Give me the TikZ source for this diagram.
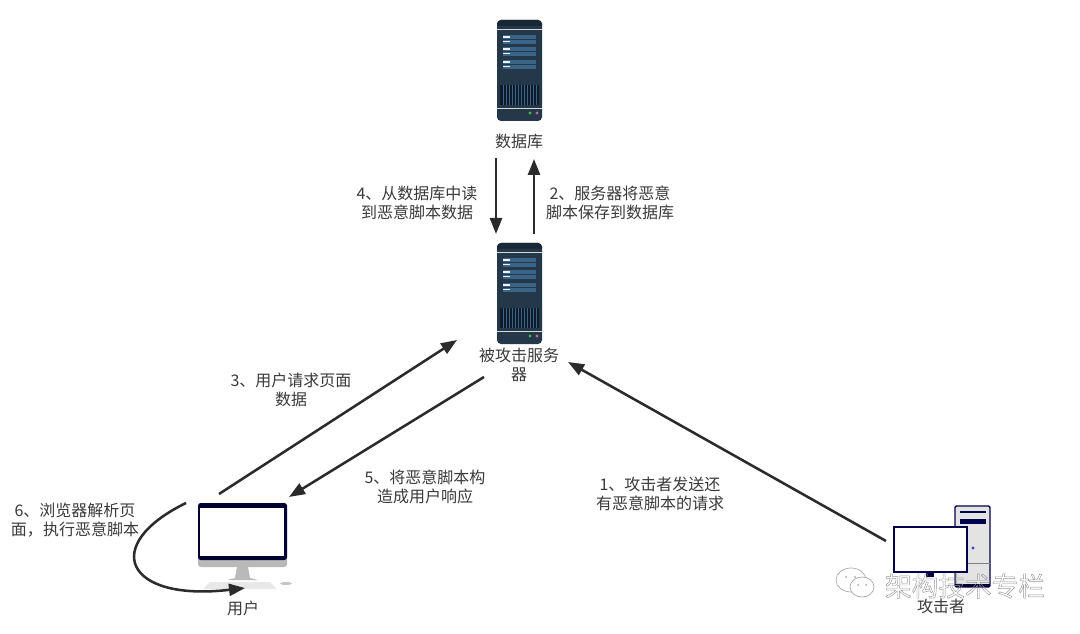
\documentclass[tikz,border=0pt]{standalone}
\usepackage{fontspec}
\setmainfont{Noto Sans CJK SC}
\usetikzlibrary{arrows.meta}
\definecolor{srvdark}{HTML}{25384A}
\definecolor{srvpanel}{HTML}{3A6488}
\definecolor{srvgrill}{HTML}{0F1B29}
\definecolor{labelgray}{HTML}{3A3A3A}
\definecolor{arrowdark}{HTML}{2B2B2B}
\tikzset{
  lab/.style={font=\fontsize{12}{14.25}\selectfont,text=labelgray,align=center,inner sep=0pt},
  flow/.style={-{Triangle[length=12pt,width=9pt]},line width=1.9pt,arrowdark},
  server/.pic={
    \fill[srvdark,rounded corners=3pt] (0,0) rectangle (45,101);
    \fill[black!30!srvdark,rounded corners=3pt] (0,0) rectangle (45,9);
    \fill[srvdark] (0,6) rectangle (45,9);
    \draw[black!15,line width=0.6pt] (0,9) -- (45,9) (0,88) -- (45,88);
    \foreach \y in {15,27,40} {
      \fill[srvpanel] (6,\y) rectangle (39,\y+4.5);
      \fill[srvpanel] (6,\y+5.2) rectangle (39,\y+9.5);
      \fill[blue!6] (6,\y+1.5) rectangle (13,\y+3);
      \fill[blue!6] (6,\y+6) rectangle (13,\y+7.5);
    }
    \fill[srvgrill] (3,65) rectangle (42,85);
    \foreach \x in {6,9,...,39} \draw[srvpanel,line width=0.5pt] (\x,65) -- (\x,85);
    \fill[green!45!gray] (33,93) circle (1.6);
    \fill[magenta!45!gray] (40,93) circle (1.6);
  }
}
\begin{document}
\begin{tikzpicture}[x=0.75pt,y=-0.75pt]
  \useasboundingbox (0,0) rectangle (1080,634);
  \fill[white] (0,0) rectangle (1080,634);
  % servers
  \pic at (497,20) {server};
  \pic at (497,243) {server};
  \node[lab] (dbname) at (519,141) {数据库};
  \node[lab] (srvname) at (519,365) {被攻击服务\\器};
  % user desktop
  \fill[gray!55,rounded corners=2pt] (198,555) rectangle (287,567);
  \fill[black!80!blue,rounded corners=2pt] (198,503) rectangle (287,560);
  \fill[white] (200,508) rectangle (284,556);
  \fill[gray!55] (237,567) -- (248,567) -- (250,578) -- (258,580) -- (227,580) -- (235,578) -- cycle;
  \fill[gray!18] (210,582) -- (270,582) -- (277,589) -- (203,589) -- cycle;
  \fill[gray!45] (286,583.5) ellipse (6 and 1.5);
  \node[lab] (username) at (243,608) {用户};
  % attacker desktop
  \draw[fill=gray!22,draw=black!70!blue,line width=1pt,rounded corners=1pt] (955,506) rectangle (990,587);
  \fill[black!70!blue] (960,511) rectangle (986,513);
  \fill[black!70!blue] (960,519) rectangle (986,524);
  \fill[blue!50!gray] (973,548) circle (1.7);
  \draw[gray,line width=0.5pt] (955,563) -- (990,563);
  \fill[black!80!blue] (955,584) rectangle (990,587);
  \fill[black!80!blue] (926,572) rectangle (934,577);
  \draw[fill=white,draw=black!70!blue,line width=1pt] (894,527) rectangle (967,572);
  \node[lab] (hackname) at (941,606) {攻击者};
  % step labels
  \node[lab] (read) at (417,203) {4、从数据库中读\\到恶意脚本数据};
  \node[lab] (save) at (610,203) {2、服务器将恶意\\脚本保存到数据库};
  \node[lab] (req) at (291,390) {3、用户请求页面\\数据};
  \node[lab] (resp) at (425,487) {5、将恶意脚本构\\造成用户响应};
  \node[lab] (send) at (660,494) {1、攻击者发送还\\有恶意脚本的请求};
  \node[lab] (exec) at (75,520) {6、浏览器解析页\\面，执行恶意脚本};
  % arrow ends
  \coordinate (a1) at (886,541); \coordinate (b1) at (568,362);
  \coordinate (a2) at (534,234); \coordinate (b2) at (534,159);
  \coordinate (a3) at (219,494); \coordinate (b3) at (457,340);
  \coordinate (a4) at (496,158); \coordinate (b4) at (496,234);
  \coordinate (a5) at (484,377); \coordinate (b5) at (289,497);
  \coordinate (a6) at (186,503); \coordinate (b6) at (245,588);
  \draw[flow] (a1) -- (b1);
  \draw[flow] (a2) -- (b2);
  \draw[flow] (a3) -- (b3);
  \draw[flow] (a4) -- (b4);
  \draw[flow] (a5) -- (b5);
  \draw[flow] (a6) .. controls (100,545) and (125,602) .. (b6);
  % watermark
  \draw[gray!70,fill=white,line width=0.5pt] (851,580) ellipse (15 and 12);
  \draw[gray!70,fill=white,line width=0.5pt] (862,587) ellipse (12 and 10);
  \fill[gray!70] (846,577) circle (1) (855,577) circle (1) (858,585) circle (1) (866,585) circle (1);
  \node[inner sep=0pt,font=\fontsize{20}{20}\selectfont] (mark) at (965,586) {\special{pdf:code 1 Tr 0.35 w 0.6 G}架构技术专栏\special{pdf:code 0 Tr 0 G}};
\end{tikzpicture}
\end{document}
